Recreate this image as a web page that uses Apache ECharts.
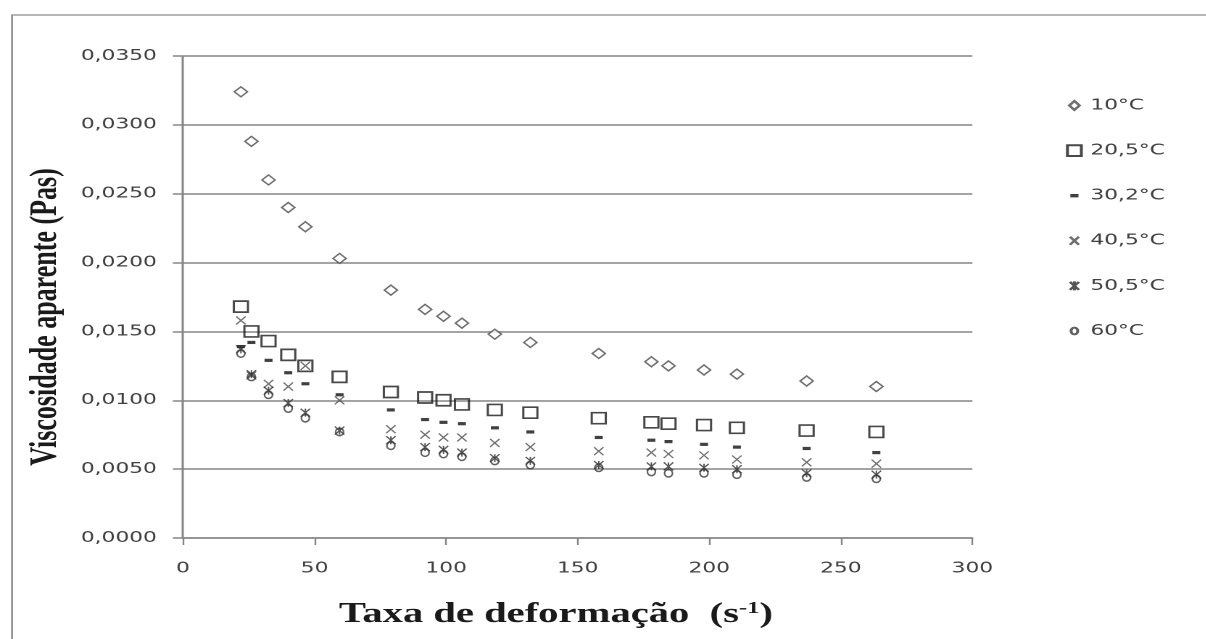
<!DOCTYPE html>
<html>
<head>
<meta charset="utf-8">
<script src="https://cdn.jsdelivr.net/npm/echarts@6/dist/echarts.min.js"></script>
<style>
html,body{margin:0;padding:0;background:#fff;overflow:hidden;width:1206px;height:639px;}
#chart{position:absolute;left:0;top:0;height:639px;transform-origin:0 0;}
</style>
</head>
<body>
<div id="chart"></div>
<script>
// ---- data ----
const shearRate = [22, 26, 32.5, 40, 46.5, 59.5, 79, 92, 99, 106, 118.5, 132, 158, 178, 184.5, 198, 210.5, 237, 263.5];
const visc10   = [0.0324, 0.0288, 0.0260, 0.0240, 0.0226, 0.0203, 0.0180, 0.0166, 0.0161, 0.0156, 0.0148, 0.0142, 0.0134, 0.0128, 0.0125, 0.0122, 0.0119, 0.0114, 0.0110];
const visc20_5 = [0.0168, 0.0150, 0.0143, 0.0133, 0.0125, 0.0117, 0.0106, 0.0102, 0.0100, 0.0097, 0.0093, 0.0091, 0.0087, 0.0084, 0.0083, 0.0082, 0.0080, 0.0078, 0.0077];
const visc30_2 = [0.0139, 0.0142, 0.0129, 0.0120, 0.0112, 0.0104, 0.0093, 0.0086, 0.0084, 0.0083, 0.0080, 0.0077, 0.0073, 0.0071, 0.0070, 0.0068, 0.0066, 0.0065, 0.0062];
const visc40_5 = [0.0158, 0.0118, 0.0112, 0.0110, 0.0125, 0.0100, 0.0079, 0.0075, 0.0073, 0.0073, 0.0069, 0.0066, 0.0063, 0.0062, 0.0061, 0.0060, 0.0057, 0.0055, 0.0054];
const visc50_5 = [0.0137, 0.0119, 0.0107, 0.0098, 0.0091, 0.0078, 0.0071, 0.0066, 0.0064, 0.0062, 0.0058, 0.0056, 0.0053, 0.0052, 0.0052, 0.0051, 0.0050, 0.0047, 0.0046];
const visc60   = [0.0134, 0.0117, 0.0104, 0.0094, 0.0087, 0.0077, 0.0067, 0.0062, 0.0061, 0.0059, 0.0056, 0.0053, 0.0051, 0.0048, 0.0047, 0.0047, 0.0046, 0.0044, 0.0043];
const seriesNames = ['10°C', '20,5°C', '30,2°C', '40,5°C', '50,5°C', '60°C'];
const xTicks = {min: 0, max: 300, interval: 50};
const yTicks = {min: 0, max: 0.035, interval: 0.005};

// ---- layout (source image is horizontally stretched) ----
const SX = 1.45;
const W = 1206 / SX;
const el = document.getElementById('chart');
el.style.width = W + 'px';
el.style.transform = 'scaleX(' + SX + ')';

const pairs = ys => shearRate.map((x, i) => [x, ys[i]]);
const B = 'M0,0M12,12'; // legend icon bounding box
const legendIcons = [
  'path://' + B + 'M2.5,6L6,1.5L9.5,6L6,10.5Z',
  'path://' + B + 'M1.2,0.6L10.8,0.6L10.8,11.4L1.2,11.4Z',
  'path://' + B + 'M3.2,4.3L8.8,4.3L8.8,7.7L3.2,7.7Z',
  'path://' + B + 'M2.9,2L9.1,10M9.1,2L2.9,10',
  'path://' + B + 'M2.9,2L9.1,10M9.1,2L2.9,10M6,1.5L6,10.5',
  'path://' + B + 'M6,2.6A2.3,3.4 0 1,1 6,9.4A2.3,3.4 0 1,1 6,2.6Z'
];
const clear = 'rgba(0,0,0,0)';
const chart = echarts.init(el, null, {renderer: 'canvas', devicePixelRatio: 2});
const axisGrey = '#868686';
const labelFont = {fontFamily: 'DejaVu Sans', fontSize: 15, color: '#404040'};

chart.setOption({
  backgroundColor: '#fff',
  animation: false,
  graphic: [{
    type: 'rect', silent: true, z: -10,
    shape: {x: 12 / SX, y: 15, width: W + 20, height: 700},
    style: {fill: '#fff', stroke: '#8c8c8c', lineWidth: 1.3}
  }],
  grid: {left: 183 / SX, right: (1206 - 972) / SX, top: 56, bottom: 101, containLabel: false},
  legend: {
    orient: 'vertical',
    left: 1057 / SX, top: 93,
    itemWidth: 12, itemHeight: 12, itemGap: 33 - 2.9,
    textStyle: Object.assign({lineHeight: 12}, labelFont),
    data: seriesNames.map((n, i) => ({name: n, icon: legendIcons[i]})),
    selectedMode: false
  },
  xAxis: {
    type: 'value', min: xTicks.min, max: xTicks.max, interval: xTicks.interval,
    axisLine: {show: true, lineStyle: {color: axisGrey, width: 1.5}},
    axisTick: {show: true, length: 7, lineStyle: {color: axisGrey, width: 1.2}},
    axisLabel: Object.assign({margin: 23}, labelFont),
    splitLine: {show: false},
    name: '{t|Taxa de deformação  (s}{s|-1}{t|)}',
    nameLocation: 'middle', nameGap: 77,
    nameTextStyle: {
      verticalAlign: 'middle', padding: [0, 30, 0, 0],
      rich: {
        t: {fontFamily: 'Liberation Serif', fontWeight: 'bold', fontSize: 28, lineHeight: 30, color: '#1a1a1a'},
        s: {fontFamily: 'Liberation Serif', fontWeight: 'bold', fontSize: 17, lineHeight: 18, verticalAlign: 'top', color: '#1a1a1a'}
      }
    }
  },
  yAxis: {
    type: 'value', min: yTicks.min, max: yTicks.max, interval: yTicks.interval,
    axisLine: {show: true, lineStyle: {color: axisGrey, width: 1.5}},
    axisTick: {show: true, length: 7, lineStyle: {color: axisGrey, width: 1.5}},
    axisLabel: Object.assign({margin: 18, formatter: v => v.toFixed(4).replace('.', ',')}, labelFont),
    splitLine: {show: true, lineStyle: {color: axisGrey, width: 1.5}},
    name: 'Viscosidade aparente (Pas)',
    nameLocation: 'middle', nameGap: 87,
    nameTextStyle: {
      fontFamily: 'Liberation Serif', fontWeight: 'bold', fontSize: 26, color: '#1a1a1a',
      verticalAlign: 'middle', padding: [0, 40, 0, 0]
    }
  },
  series: [
    {name: seriesNames[0], type: 'scatter', data: pairs(visc10), symbol: 'diamond', symbolSize: [9, 10],
     itemStyle: {color: '#fff', borderColor: '#4a4a4a', borderWidth: 1.3}},
    {name: seriesNames[1], type: 'scatter', data: pairs(visc20_5), symbol: 'rect', symbolSize: [9.7, 11],
     itemStyle: {color: clear, borderColor: '#1a1a1a', borderWidth: 1.6}},
    {name: seriesNames[2], type: 'scatter', data: pairs(visc30_2), symbol: 'rect', symbolSize: [5.5, 3.2],
     itemStyle: {color: '#111', borderWidth: 0}},
    {name: seriesNames[3], type: 'scatter', data: pairs(visc40_5), symbol: 'path://M0,0L10,10M10,0L0,10', symbolSize: [6.5, 8],
     itemStyle: {color: clear, borderColor: '#4a4a4a', borderWidth: 1.1}},
    {name: seriesNames[4], type: 'scatter', data: pairs(visc50_5), symbol: 'path://M0,0L10,10M10,0L0,10M5,0L5,10', symbolSize: [6.5, 8],
     itemStyle: {color: clear, borderColor: '#2a2a2a', borderWidth: 1.1}},
    {name: seriesNames[5], type: 'scatter', data: pairs(visc60), symbol: 'circle', symbolSize: [5.5, 7.5],
     itemStyle: {color: clear, borderColor: '#3a3a3a', borderWidth: 1.3}}
  ]
});
</script>
</body>
</html>
